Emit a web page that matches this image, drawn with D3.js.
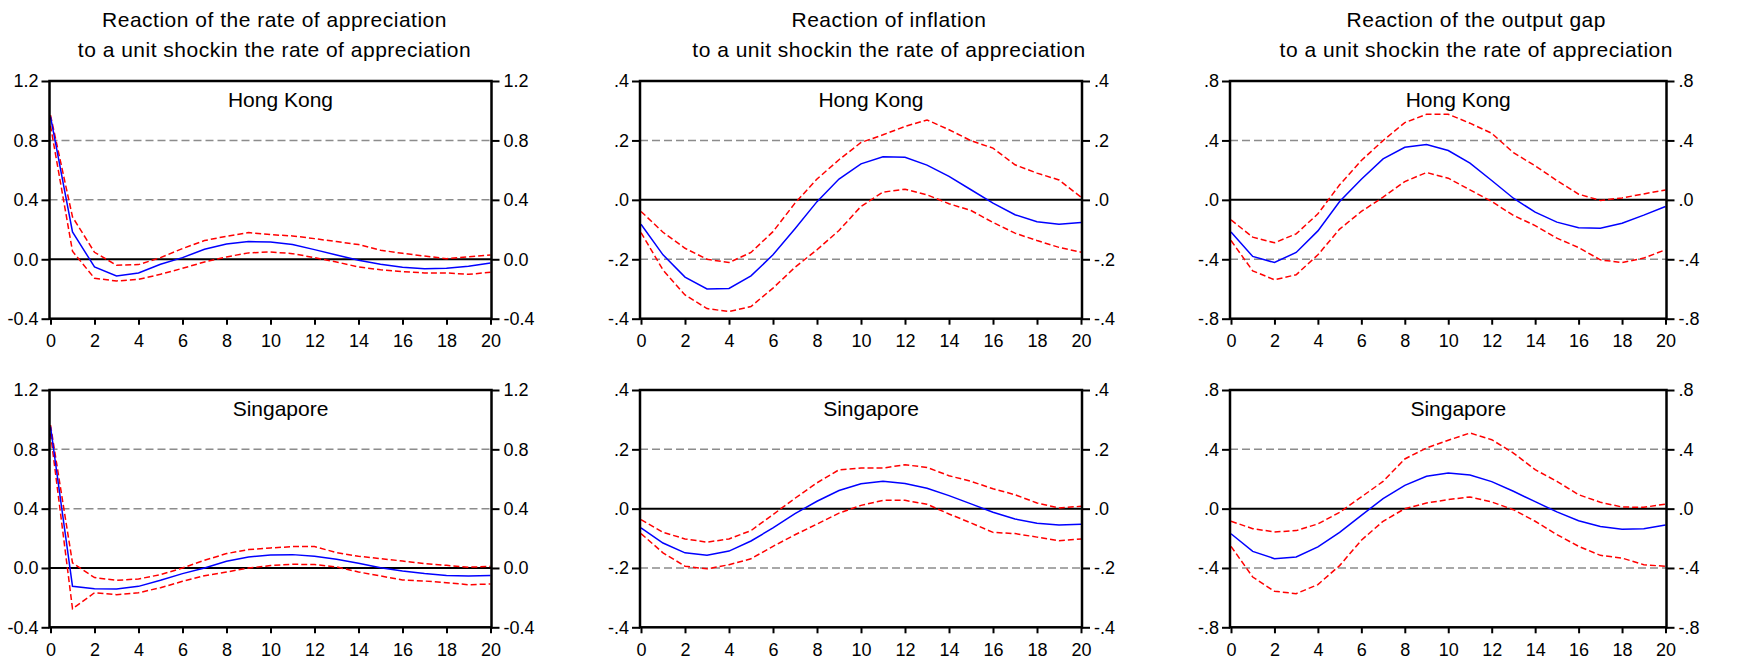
<!DOCTYPE html>
<html><head><meta charset="utf-8">
<script src="https://cdn.jsdelivr.net/npm/d3@7"></script>
<style>
body{margin:0;background:#fff}
svg{display:block}
text{font-family:"Liberation Sans",Arial,sans-serif;fill:#000}
</style>
</head><body>
<svg id="chart" width="1749" height="660"></svg>
<script>
// ---------------- data ----------------
const periods = [0,1,2,3,4,5,6,7,8,9,10,11,12,13,14,15,16,17,18,19,20];
const xTicks = [0,2,4,6,8,10,12,14,16,18,20];

const titleLine1 = ["Reaction of the rate of appreciation", "Reaction of inflation", "Reaction of the output gap"];
const titleLine2 = ["to a unit shockin the rate of appreciation", "to a unit shockin the rate of appreciation", "to a unit shockin the rate of appreciation"];
const countries = ["Hong Kong", "Singapore"];

const apprTicks = [-0.4, 0, 0.4, 0.8, 1.2];
const apprTickLabels = ["-0.4", "0.0", "0.4", "0.8", "1.2"];
const inflTicks = [-0.4, -0.2, 0, 0.2, 0.4];
const inflTickLabels = ["-.4", "-.2", ".0", ".2", ".4"];
const gapTicks = [-0.8, -0.4, 0, 0.4, 0.8];
const gapTickLabels = ["-.8", "-.4", ".0", ".4", ".8"];

// Hong Kong: rate of appreciation
const hkApprMid = [0.96,0.184,-0.052,-0.112,-0.092,-0.034,0.011,0.067,0.103,0.119,0.117,0.099,0.065,0.029,-0.007,-0.034,-0.054,-0.063,-0.061,-0.047,-0.025];
const hkApprUp  = [0.97,0.285,0.047,-0.040,-0.036,0.011,0.072,0.126,0.155,0.180,0.166,0.157,0.139,0.119,0.099,0.061,0.040,0.022,0.004,0.016,0.029];
const hkApprLo  = [0.90,0.054,-0.128,-0.146,-0.135,-0.101,-0.061,-0.018,0.016,0.043,0.049,0.038,0.011,-0.018,-0.052,-0.070,-0.083,-0.092,-0.092,-0.101,-0.088];
// Hong Kong: inflation
const hkInflMid = [-0.082,-0.185,-0.260,-0.300,-0.298,-0.256,-0.185,-0.097,-0.006,0.070,0.121,0.145,0.143,0.117,0.079,0.034,-0.011,-0.050,-0.074,-0.082,-0.076];
const hkInflUp  = [-0.039,-0.109,-0.163,-0.200,-0.211,-0.177,-0.107,-0.011,0.070,0.135,0.193,0.219,0.247,0.269,0.236,0.199,0.174,0.118,0.090,0.067,0.009];
const hkInflLo  = [-0.110,-0.236,-0.320,-0.366,-0.376,-0.359,-0.297,-0.227,-0.168,-0.103,-0.022,0.026,0.036,0.017,-0.013,-0.036,-0.076,-0.112,-0.137,-0.160,-0.176];
// Hong Kong: output gap
const hkGapMid = [-0.217,-0.381,-0.422,-0.354,-0.209,-0.011,0.139,0.276,0.354,0.372,0.332,0.247,0.130,0.011,-0.083,-0.150,-0.188,-0.191,-0.157,-0.103,-0.045];
const hkGapUp  = [-0.135,-0.251,-0.289,-0.229,-0.094,0.101,0.265,0.399,0.520,0.576,0.576,0.516,0.448,0.318,0.229,0.130,0.038,-0.004,0.013,0.040,0.067];
const hkGapLo  = [-0.274,-0.478,-0.538,-0.504,-0.370,-0.197,-0.078,0.018,0.123,0.184,0.146,0.067,-0.011,-0.105,-0.173,-0.258,-0.321,-0.404,-0.422,-0.392,-0.336];
// Singapore: rate of appreciation
const sgApprMid = [0.953,-0.124,-0.140,-0.142,-0.124,-0.083,-0.038,0.000,0.045,0.074,0.088,0.090,0.079,0.059,0.032,0.002,-0.020,-0.038,-0.050,-0.054,-0.050];
const sgApprUp  = [0.964,0.034,-0.065,-0.083,-0.074,-0.045,0.000,0.052,0.097,0.124,0.135,0.144,0.144,0.104,0.079,0.063,0.047,0.029,0.018,0.005,0.011];
const sgApprLo  = [0.908,-0.275,-0.167,-0.180,-0.167,-0.133,-0.090,-0.052,-0.027,0.000,0.016,0.025,0.023,0.007,-0.027,-0.054,-0.081,-0.088,-0.099,-0.113,-0.108];
// Singapore: inflation
const sgInflMid = [-0.065,-0.116,-0.149,-0.157,-0.143,-0.109,-0.065,-0.017,0.025,0.061,0.084,0.092,0.085,0.069,0.044,0.016,-0.012,-0.035,-0.049,-0.055,-0.053];
const sgInflUp  = [-0.037,-0.080,-0.102,-0.113,-0.102,-0.074,-0.020,0.035,0.087,0.131,0.137,0.137,0.148,0.139,0.111,0.092,0.067,0.047,0.019,0.002,0.008];
const sgInflLo  = [-0.084,-0.149,-0.194,-0.203,-0.189,-0.169,-0.127,-0.088,-0.052,-0.015,0.011,0.028,0.028,0.015,-0.018,-0.048,-0.080,-0.084,-0.096,-0.108,-0.102];
// Singapore: output gap
const sgGapMid = [-0.169,-0.288,-0.337,-0.326,-0.258,-0.160,-0.045,0.067,0.157,0.218,0.240,0.227,0.182,0.117,0.047,-0.022,-0.081,-0.121,-0.139,-0.135,-0.110];
const sgGapUp  = [-0.085,-0.135,-0.157,-0.148,-0.103,-0.025,0.079,0.184,0.335,0.409,0.461,0.510,0.465,0.375,0.263,0.184,0.094,0.043,0.011,0.009,0.031];
const sgGapLo  = [-0.254,-0.461,-0.557,-0.573,-0.512,-0.384,-0.213,-0.085,0.000,0.038,0.061,0.079,0.045,-0.007,-0.085,-0.175,-0.254,-0.315,-0.333,-0.378,-0.389];

// ---------------- layout ----------------
const colX = [[49.5, 491.5], [640, 1082], [1230, 1666.5]];
const rowY = [[81, 318.7], [390, 627.3]];
const titleShift = [4, 28, 28];

const panels = [
  {row:0, col:0, mid:hkApprMid, up:hkApprUp, lo:hkApprLo, ticks:apprTicks, labels:apprTickLabels},
  {row:0, col:1, mid:hkInflMid, up:hkInflUp, lo:hkInflLo, ticks:inflTicks, labels:inflTickLabels},
  {row:0, col:2, mid:hkGapMid,  up:hkGapUp,  lo:hkGapLo,  ticks:gapTicks,  labels:gapTickLabels},
  {row:1, col:0, mid:sgApprMid, up:sgApprUp, lo:sgApprLo, ticks:apprTicks, labels:apprTickLabels},
  {row:1, col:1, mid:sgInflMid, up:sgInflUp, lo:sgInflLo, ticks:inflTicks, labels:inflTickLabels},
  {row:1, col:2, mid:sgGapMid,  up:sgGapUp,  lo:sgGapLo,  ticks:gapTicks,  labels:gapTickLabels}
];

const svg = d3.select("#chart");

// column titles
titleLine1.forEach((t, i) => {
  const cx = (colX[i][0] + colX[i][1]) / 2 + titleShift[i];
  const g = svg.append("text").attr("x", cx).attr("text-anchor", "middle")
    .style("font-size", "21px").style("letter-spacing", "0.5px");
  g.append("tspan").attr("x", cx).attr("y", 27).text(t);
  g.append("tspan").attr("x", cx).attr("y", 57).text(titleLine2[i]);
});

panels.forEach(p => {
  const [x0, x1] = colX[p.col];
  const [yTop, yBot] = rowY[p.row];
  const x = d3.scaleLinear().domain([0, 20]).range([x0 + 1, x1 - 1]);
  const y = d3.scaleLinear().domain([p.ticks[0], p.ticks[p.ticks.length - 1]]).range([yBot, yTop]);
  const g = svg.append("g");

  // grid lines (dashed) and zero line
  p.ticks.slice(1, -1).forEach(v => {
    if (v === 0) return;
    g.append("line").attr("x1", x0).attr("x2", x1).attr("y1", y(v)).attr("y2", y(v))
      .attr("stroke", "#8c8c8c").attr("stroke-width", 1.5).attr("stroke-dasharray", "8,4");
  });
  g.append("line").attr("x1", x0).attr("x2", x1).attr("y1", y(0)).attr("y2", y(0))
    .attr("stroke", "#000").attr("stroke-width", 2);

  const line = d3.line().x((d, i) => x(periods[i])).y(d => y(d));
  [p.up, p.lo].forEach(s => {
    g.append("path").attr("d", line(s)).attr("fill", "none")
      .attr("stroke", "#ff0000").attr("stroke-width", 1.5).attr("stroke-dasharray", "6,3");
  });
  g.append("path").attr("d", line(p.mid)).attr("fill", "none")
    .attr("stroke", "#0000ff").attr("stroke-width", 1.5);

  // axes
  const fmt = v => p.labels[p.ticks.indexOf(v)];
  const left = d3.axisLeft(y).tickValues(p.ticks).tickFormat(fmt).tickSize(8).tickPadding(3);
  const right = d3.axisRight(y).tickValues(p.ticks).tickFormat(fmt).tickSize(8).tickPadding(4);
  const bottom = d3.axisBottom(x).tickValues(xTicks).tickFormat(d3.format("d")).tickSize(6).tickPadding(10);

  [ [left, `translate(${x0},0)`], [right, `translate(${x1},0)`], [bottom, `translate(0,${yBot})`] ].forEach(([ax, tr]) => {
    const a = g.append("g").attr("transform", tr).call(ax);
    a.select(".domain").remove();
    a.selectAll(".tick line").attr("stroke", "#000").attr("stroke-width", 2);
    a.selectAll(".tick text").style("font-size", "18px").style("font-family", '"Liberation Sans",Arial,sans-serif').attr("fill", "#000");
  });

  // frame
  g.append("rect").attr("x", x0).attr("y", yTop).attr("width", x1 - x0).attr("height", yBot - yTop)
    .attr("fill", "none").attr("stroke", "#000").attr("stroke-width", 2.5);

  // country label
  g.append("text").attr("x", (x0 + x1) / 2 + 10).attr("y", yTop + 26)
    .attr("text-anchor", "middle").style("font-size", "21px").text(countries[p.row]);
});
</script>
</body></html>
